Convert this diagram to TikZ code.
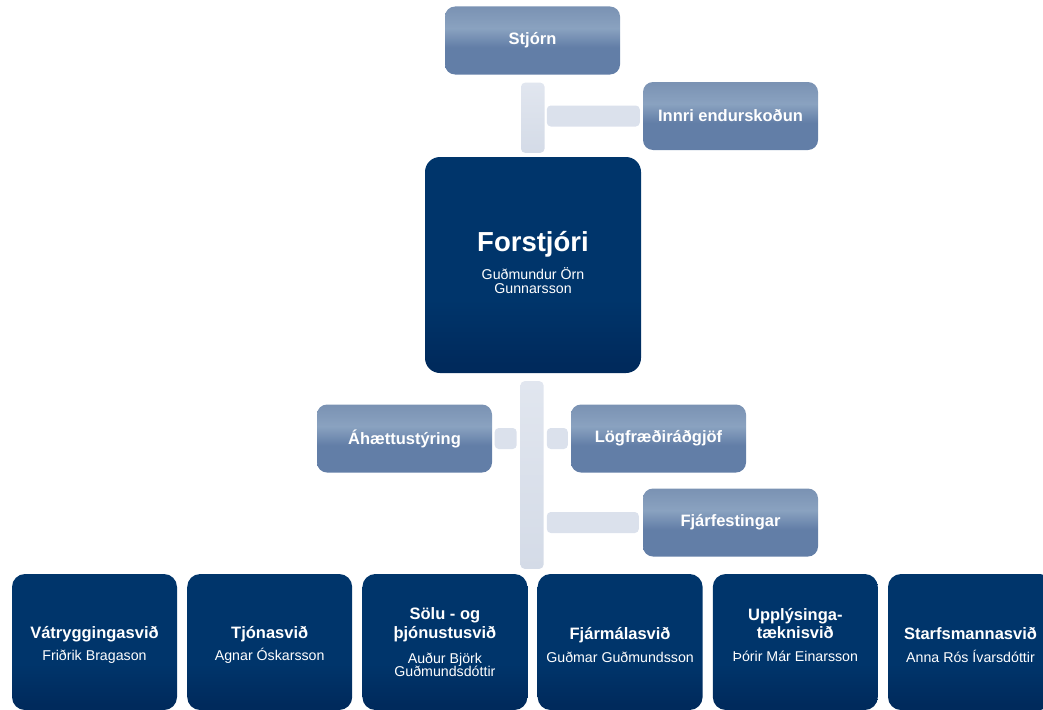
\documentclass[tikz,border=0pt]{standalone}
\usepackage{fontspec}
\setmainfont{Liberation Sans}
\usepackage{tikz}
\usetikzlibrary{calc}
\definecolor{dkblue}{HTML}{00356B}
\definecolor{dkbot}{HTML}{002A5C}
\definecolor{lbtop}{HTML}{7A92B3}
\definecolor{lbmid}{HTML}{8AA2C0}
\definecolor{lbbot}{HTML}{627EA7}
\definecolor{bartop}{HTML}{E1E6EF}
\definecolor{barbot}{HTML}{D4DBE7}
\definecolor{barfill}{HTML}{DBE1EC}
\pgfdeclareverticalshading{lightshade}{100bp}{color(0bp)=(lbbot); color(45bp)=(lbbot); color(59bp)=(lbmid); color(75bp)=(lbtop); color(100bp)=(lbtop)}
\pgfdeclareverticalshading{darkshade}{100bp}{color(0bp)=(dkbot); color(27bp)=(dkbot); color(42bp)=(dkblue); color(100bp)=(dkblue)}
\newcommand\ttlfont{\fontsize{16.5}{18.5}\selectfont\bfseries\lineskiplimit=-20pt}
\newcommand\nmfont{\fontsize{14.2}{13}\selectfont\mdseries}
\newcommand\bossfont{\fontsize{27.5}{30}\selectfont\bfseries}

\begin{document}
\begin{tikzpicture}[x=1pt,y=1pt,
  lightbox/.style={shade,shading=lightshade,rounded corners=10pt,minimum width=175pt,minimum height=68pt,inner sep=0pt,text=white,font=\ttlfont},
  darkbox/.style={shade,shading=darkshade,rounded corners=13pt,minimum width=165pt,minimum height=136pt,inner sep=0pt},
  boxtext/.style={inner sep=0pt,text=white,align=center,font=\ttlfont},
  vbar/.style={top color=bartop,bottom color=barbot,rounded corners=4pt},
  hbar/.style={fill=barfill,rounded corners=4pt}]
\useasboundingbox (0,0) rectangle (1043,-709);
\node[lightbox] (stjorn) at (532.5,-40.5) {Stjórn};
\node[lightbox] (innri) at (730.5,-116) {Innri endurskoðun};
\node[darkbox,minimum width=216pt,minimum height=216pt,rounded corners=15pt] (forstjori) at (533,-265) {};
\node[boxtext] (forstjori-t) at ([yshift=3pt]forstjori.center) {\bossfont Forstjóri\\[10pt]\nmfont Guðmundur Örn\\[-5pt]\nmfont Gunnarsson};
\node[lightbox] (ahaetta) at (404.5,-438.5) {Áhættustýring};
\node[lightbox] (logfr) at (658.5,-438.5) {Lögfræðiráðgjöf};
\node[lightbox] (fjarfest) at (730.5,-522.5) {Fjárfestingar};
\foreach \nm/\xx in {vatr/94.5,tjon/269.7,solu/444.9,fjarmal/620.1,upplys/795.3,starfs/970.5}
  \node[darkbox] (\nm) at (\xx,-642) {};
\node[boxtext] (vatr-t) at ([yshift=-3pt]vatr.center) {Vátryggingasvið\\[4pt]\nmfont Friðrik Bragason};
\node[boxtext] (tjon-t) at ([yshift=-3pt]tjon.center) {Tjónasvið\\[4pt]\nmfont Agnar Óskarsson};
\node[boxtext] (solu-t) at ([yshift=0pt]solu.center) {Sölu - og\\þjónustusvið\\[7pt]\nmfont Auður Björk\\[-6pt]\nmfont Guðmundsdóttir};
\node[boxtext] (fjarmal-t) at ([yshift=-3pt]fjarmal.center) {Fjármálasvið\\[4pt]\nmfont Guðmar Guðmundsson};
\node[boxtext] (upplys-t) at ([yshift=7pt]upplys.center) {Upplýsinga-\\tæknisvið\\[4pt]\nmfont Þórir Már Einarsson};
\node[boxtext] (starfs-t) at ([yshift=-3pt]starfs.center) {Starfsmannasvið\\[4pt]\nmfont Anna Rós Ívarsdóttir};
\path[vbar] ([xshift=-11.5pt,yshift=-8pt]stjorn.south) rectangle ([xshift=11.5pt,yshift=4pt]forstjori.north);
\path[hbar] ([xshift=-96pt,yshift=10.5pt]innri.west) rectangle ([xshift=-3pt,yshift=-10.5pt]innri.west);
\path[vbar] ([xshift=-12.5pt,yshift=-8pt]forstjori.south) rectangle ($(forstjori.south |- fjarmal.north)+(10.5pt,5pt)$);
\path[hbar] ([xshift=2.5pt,yshift=10.5pt]ahaetta.east) rectangle ([xshift=24.5pt,yshift=-10.5pt]ahaetta.east);
\path[hbar] ([xshift=-24pt,yshift=10.5pt]logfr.west) rectangle ([xshift=-3pt,yshift=-10.5pt]logfr.west);
\path[hbar] ([xshift=-96pt,yshift=10.5pt]fjarfest.west) rectangle ([xshift=-4pt,yshift=-10.5pt]fjarfest.west);
\end{tikzpicture}
\end{document}
